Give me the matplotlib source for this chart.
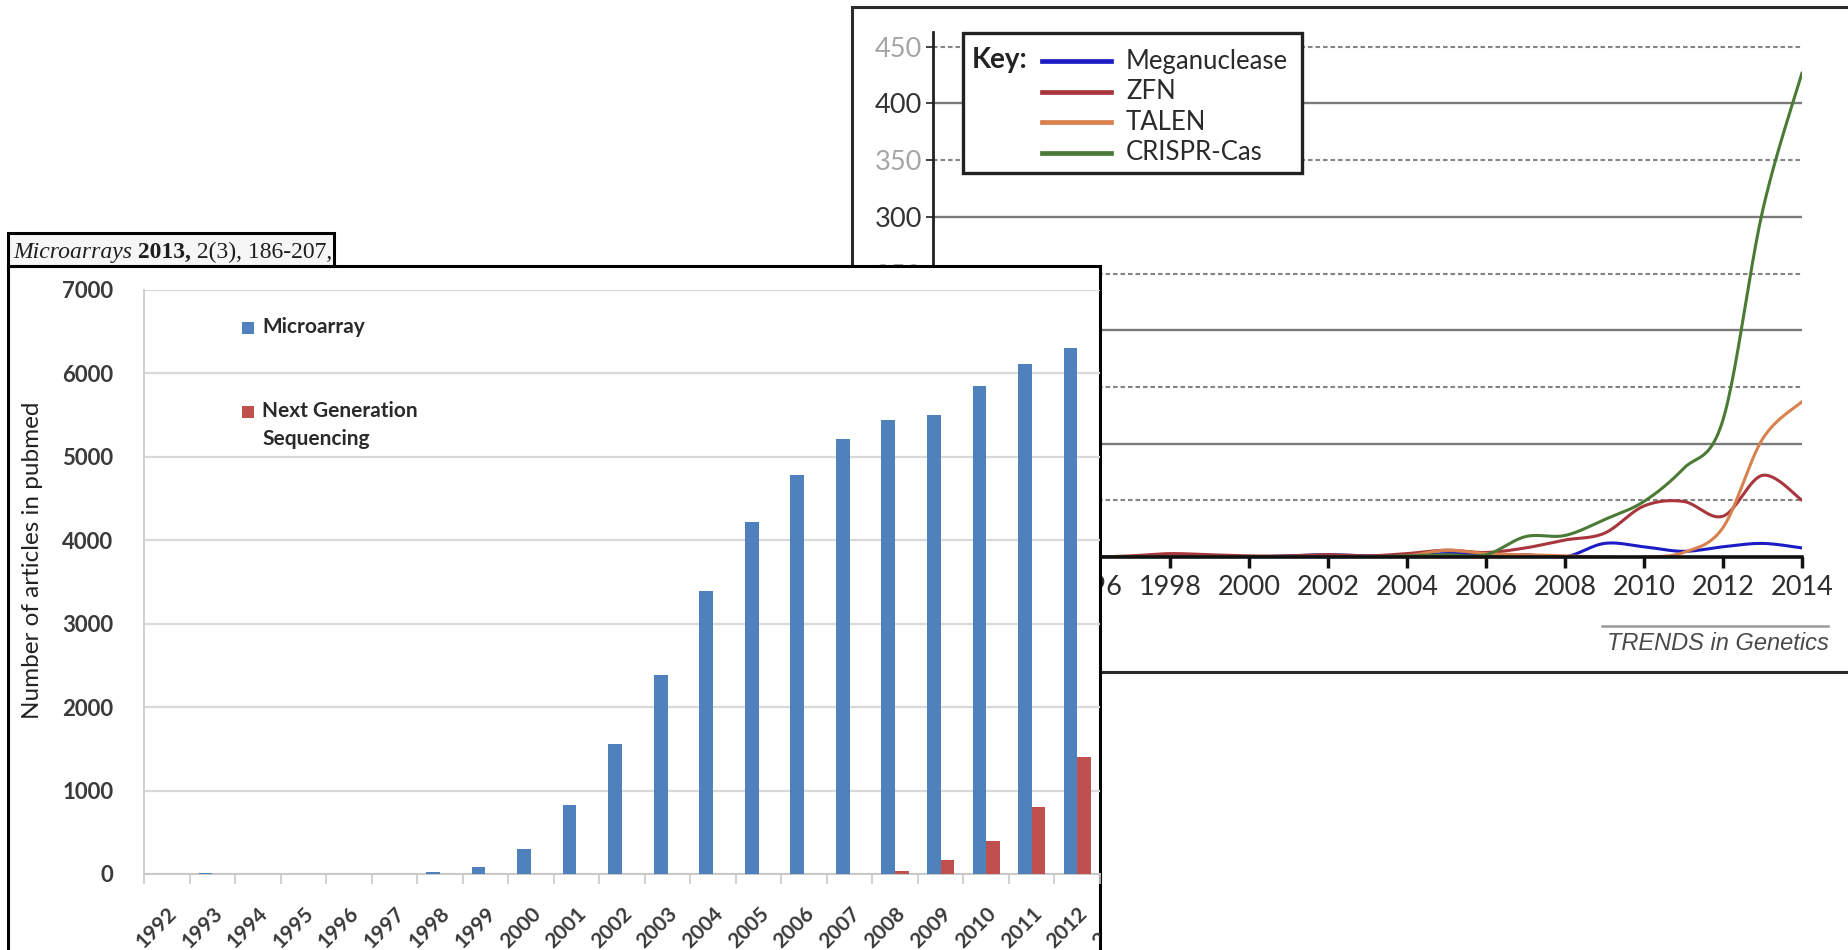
import numpy as np
import matplotlib
matplotlib.use("Agg")
import matplotlib.pyplot as plt
from matplotlib.patches import Rectangle
from matplotlib.lines import Line2D

plt.rcParams['font.family'] = ['Lato', 'DejaVu Sans']

# --- genome editing publications (back chart) ---
edit_years = list(range(1992, 2015))
meganuclease = [0, 0, 0, 0, 0, 0, 1, 1, 0, 1, 2, 1, 1, 3, 2, 2, 0, 12, 9, 5, 9, 12, 8]
zfn = [0, 0, 0, 0, 0, 1, 3, 2, 1, 1, 2, 1, 3, 6, 4, 8, 15, 21, 45, 49, 36, 72, 50]
talen = [0, 0, 0, 0, 0, 0, 0, 0, 0, 0, 0, 0, 1, 6, 3, 2, 1, 0, 0, 4, 26, 104, 137]
crispr = [0, 0, 0, 0, 0, 0, 0, 0, 0, 0, 0, 0, 1, 2, 2, 18, 19, 33, 49, 78, 121, 305, 427]
edit_names = ['Meganuclease', 'ZFN', 'TALEN', 'CRISPR-Cas']
edit_colors = ['#1c1cc4', '#a8363c', '#d8804e', '#4b7a36']

# --- microarray vs NGS articles (front chart) ---
pub_years = [str(y) for y in range(1992, 2014)]
microarray = [0, 12, 0, 0, 0, 0, 28, 88, 295, 830, 1560, 2385, 3390, 4215, 4780,
              5210, 5440, 5500, 5850, 6110, 6300]
ngs = [0, 0, 0, 0, 0, 0, 0, 0, 0, 0, 0, 0, 0, 0, 0, 0, 40, 170, 390, 800, 1400]

W, H = 1849, 950


def box(x0, y0, x1, y1):
    return [x0 / W, 1 - y1 / H, (x1 - x0) / W, (y1 - y0) / H]


def fig_rect(x0, y0, x1, y1, **kw):
    return Rectangle((x0 / W, 1 - y1 / H), (x1 - x0) / W, (y1 - y0) / H,
                     transform=fig.transFigure, **kw)


def smooth(xs, ys, n=24):
    # excel style smoothed line (catmull-rom through every point)
    p = np.column_stack([xs, ys]).astype(float)
    p = np.vstack([p[0], p, p[-1]])
    t = np.linspace(0, 1, n)[:, None]
    out = []
    for i in range(1, len(p) - 2):
        p0, p1, p2, p3 = p[i - 1], p[i], p[i + 1], p[i + 2]
        c1 = p1 + (p2 - p0) / 6
        c2 = p2 - (p3 - p1) / 6
        seg = ((1 - t) ** 3) * p1 + 3 * ((1 - t) ** 2) * t * c1 + 3 * (1 - t) * t ** 2 * c2 + t ** 3 * p2
        out.append(seg if i == 1 else seg[1:])
    seg = np.vstack(out)
    return seg[:, 0], seg[:, 1]


fig = plt.figure(figsize=(W / 100, H / 100), dpi=100)
fig.patch.set_facecolor('white')

# ---------------- back chart ----------------
fig.add_artist(fig_rect(852, 7, 1880, 672, fc='white', ec='#2b2b2b', lw=2.2, zorder=0))

axb = fig.add_axes(box(933, 32, 1802, 557))
axb.set_zorder(1)
axb.set_facecolor('none')
axb.set_xlim(1992, 2014)
axb.set_ylim(0, 463)

for lvl in range(50, 451, 50):
    if lvl % 100 == 0:
        axb.axhline(lvl, color='#7a7a7a', lw=1.7, zorder=1)
    else:
        axb.axhline(lvl, color='#858585', lw=1.5, ls=(0, (2.2, 1.4)), zorder=1)

for vals, c in zip([meganuclease, zfn, talen, crispr], edit_colors):
    sx, sy = smooth(edit_years, vals)
    axb.plot(sx, sy, color=c, lw=2.2, zorder=3, solid_capstyle='round')

axb.set_xticks(range(1992, 2015, 2))
axb.set_yticks(range(0, 451, 50))
axb.tick_params(axis='x', length=8, width=2.5, color='#111', labelsize=19.5,
                labelcolor='#2e2e2e', pad=5)
axb.tick_params(axis='y', length=5, width=1.3, color='#333', labelsize=19.5, pad=3)
for lab, v in zip(axb.get_yticklabels(), range(0, 451, 50)):
    lab.set_color('#333333' if v % 100 == 0 else '#a5a5a5')
for s in ['top', 'right']:
    axb.spines[s].set_visible(False)
axb.spines['left'].set_color('#222')
axb.spines['left'].set_linewidth(2.0)
axb.spines['bottom'].set_color('#111')
axb.spines['bottom'].set_linewidth(2.6)
axb.spines['bottom'].set_zorder(4)

# key box
fig.add_artist(fig_rect(963, 33, 1302, 173, fc='white', ec='#222', lw=2.4, zorder=2))
fig.text(972 / W, 1 - 60 / H, 'Key:', fontsize=20, fontweight='bold', color='#222',
         va='center', ha='left', zorder=2.1)
for i, (name, c) in enumerate(zip(edit_names, edit_colors)):
    yy = 1 - (61 + i * 30.5) / H
    fig.add_artist(Line2D([1042 / W, 1111 / W], [yy, yy], color=c, lw=3.4,
                          transform=fig.transFigure, zorder=2.1))
    fig.text(1126 / W, yy, name, fontsize=18.5, color='#2a2a2a', va='center', ha='left',
             zorder=2.1)

fig.add_artist(Line2D([1602 / W, 1828 / W], [1 - 626 / H, 1 - 626 / H], color='#9a9a9a',
                      lw=1.8, transform=fig.transFigure, zorder=0.5))
fig.text(1829 / W, 1 - 643 / H, 'TRENDS in Genetics', family=['Liberation Sans'],
         style='italic', fontsize=17, color='#4a4a4a', ha='right', va='center', zorder=0.5)

# ---------------- front chart ----------------
panel = fig_rect(8, 266, 1100, 985, fc='white', ec='black', lw=2.2, zorder=3)
fig.add_artist(panel)
cap = fig_rect(8, 233, 334, 266, fc='#f6f6f6', ec='black', lw=2.2, zorder=3)
fig.add_artist(cap)

cat_w = 46.0
label_pad = 21
axf = fig.add_axes(box(144, 290, 1100, 874))
axf.set_zorder(4)
axf.set_facecolor('none')
x = np.arange(len(microarray))
bw = 0.3
axf.bar(x - bw / 2, microarray, bw, color='#4f81bd', zorder=3, label='Microarray')
axf.bar(x + bw / 2, ngs, bw, color='#c0504d', zorder=3, label='Next Generation\nSequencing')
axf.set_ylim(0, 7000)
axf.set_xlim(-0.5, (1100 - 144) / cat_w - 0.5)
axf.set_yticks(range(0, 7001, 1000))
axf.yaxis.grid(True, color='#d9d9d9', lw=1.6, zorder=0)
axf.set_axisbelow(True)
axf.set_xticks(x)
axf.set_xticklabels(pub_years[:len(x)], rotation=45, ha='right', va='top',
                    rotation_mode='anchor')
axf.set_xticks(np.arange(-0.5, len(x) + 0.5, 1), minor=True)
axf.tick_params(axis='x', which='major', length=0, pad=label_pad, labelsize=15,
                labelcolor='#3a3a3a')
axf.tick_params(axis='x', which='minor', length=7, width=1.2, color='#c8c8c8')
axf.tick_params(axis='y', length=0, pad=22, labelsize=16, labelcolor='#3a3a3a')
for lab in axf.get_xticklabels() + axf.get_yticklabels():
    lab.set_fontweight('bold')
for s in ['top', 'right']:
    axf.spines[s].set_visible(False)
axf.spines['left'].set_color('#d0d0d0')
axf.spines['left'].set_linewidth(1.4)
axf.spines['bottom'].set_color('#c8c8c8')
axf.spines['bottom'].set_linewidth(1.4)
fig.text(33 / W, 1 - 560 / H, 'Number of articles in pubmed', rotation=90, fontsize=17.5,
         color='#222', ha='center', va='center', zorder=5)

# cut-off label of the next year at the panel edge
t13 = axf.text(len(x), -label_pad * 1.389 * 7000 / 584, pub_years[-1], rotation=45,
               ha='right', va='top', rotation_mode='anchor', fontsize=15,
               fontweight='bold', color='#3a3a3a', transform=axf.transData, clip_on=True)
t13.set_clip_path(panel)

# legend
for i, (name, c, ty) in enumerate([('Microarray', '#4f81bd', 328),
                                   ('Next Generation\nSequencing', '#c0504d', 412)]):
    fig.add_artist(fig_rect(242, ty - 6, 254, ty + 6, fc=c, ec='none', zorder=5))
    fig.text(262 / W, 1 - (ty - 11) / H, name, fontsize=15, fontweight='bold', color='#2a2a2a',
             ha='left', va='top', linespacing=1.5, zorder=5)

# journal caption
fig.canvas.draw()
r = fig.canvas.get_renderer()
cx = 13
parts = [('Microarrays', dict(style='italic')), (' 2013,', dict(weight='bold')),
         (' 2(3), 186-207,', dict())]
for txt, kw in parts:
    t = fig.text(cx / W, 1 - 258 / H, txt, family=['Liberation Serif'], fontsize=17,
                 color='#1e1e1e', ha='left', va='baseline', zorder=6, **kw)
    t.set_clip_path(cap)
    cx += t.get_window_extent(r).width

fig.savefig('out.png', dpi=100)
